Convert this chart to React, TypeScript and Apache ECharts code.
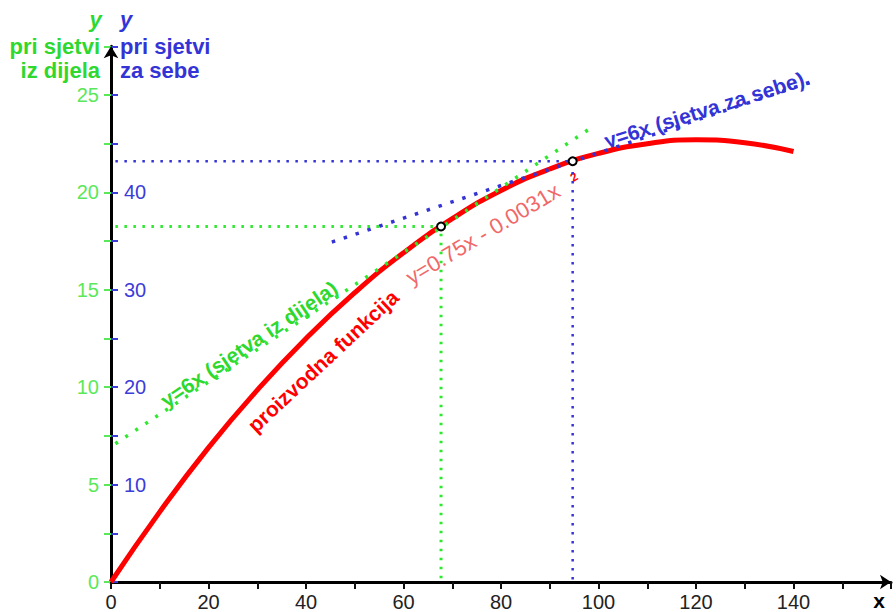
import React, { useEffect, useRef } from 'react';
import * as echarts from 'echarts';

// Production curve (values on the blue "pri sjetvi za sebe" scale)
const curveX = [0, 10, 20, 30, 40, 50, 60, 70, 80, 90, 100, 110, 120, 130, 140];
const curveY = [0, 7.2, 13.8, 19.7, 25.0, 29.7, 33.8, 37.3, 40.2, 42.4, 44.0, 45.0, 45.4, 45.1, 44.2];

// Green tangent (green scale)
const greenTangentX = [0.9, 99];
const greenTangentY = [7.1, 23.4];

// Blue tangent (blue scale)
const blueTangentX = [45.3, 143.3];
const blueTangentY = [34.9, 51.3];

// Tangent points
const greenPointX = 67.7;
const greenPointY = 18.25; // green scale
const bluePointX = 94.7;
const bluePointY = 43.2; // blue scale

// Tick labels
const xTickLabels = [0, 20, 40, 60, 80, 100, 120, 140];
const greenTickLabels = [0, 5, 10, 15, 20, 25];
const blueTickLabels = [10, 20, 30, 40];

const FONT = 'Liberation Sans, Arial, Helvetica, sans-serif';
const GREEN = '#2fd82f';
const GREEN_LINE = '#2ee82e';
const GREEN_TICK = '#5ae85a';
const BLUE = '#3434d6';
const BLUE_TICK = '#3c3cd8';
const RED = '#ff0000';

export default function App() {
  const ref = useRef<HTMLDivElement>(null);

  useEffect(() => {
    if (!ref.current) return;
    const chart = echarts.init(ref.current, undefined, { renderer: 'svg' });

    const curveData = curveX.map((x, i) => [x, curveY[i]]);
    const greenTangent = greenTangentX.map((x, i) => [x, greenTangentY[i]]);
    const blueTangent = blueTangentX.map((x, i) => [x, blueTangentY[i]]);
    const greenGuide = [
      [0.9, greenPointY],
      [greenPointX, greenPointY],
      [greenPointX, 0],
    ];
    const blueGuide = [
      [0.9, bluePointY],
      [bluePointX, bluePointY],
      [bluePointX, 0],
    ];

    const option: any = {
      animation: false,
      backgroundColor: '#ffffff',
      grid: {
        left: 111,
        right: 5,
        top: 46.3,
        bottom: 30,
        containLabel: false,
        outerBoundsMode: 'none',
      },
      xAxis: {
        type: 'value',
        min: 0,
        max: 160,
        interval: 10,
        axisLine: {
          show: true,
          onZero: false,
          symbol: ['none', 'arrow'],
          symbolSize: [11, 11],
          lineStyle: { color: '#000', width: 3 },
        },
        axisTick: { show: true, length: 7, lineStyle: { color: '#111', width: 2 } },
        axisLabel: {
          formatter: (v: number) => (xTickLabels.includes(v) ? String(v) : ''),
          color: '#222',
          fontSize: 20,
          fontFamily: FONT,
          margin: 10,
        },
        splitLine: { show: false },
      },
      yAxis: [
        {
          type: 'value',
          position: 'left',
          min: 0,
          max: 27.5,
          interval: 2.5,
          axisLine: {
            show: true,
            onZero: false,
            symbol: ['none', 'arrow'],
            symbolSize: [11, 12],
            lineStyle: { color: '#000', width: 3 },
          },
          axisTick: { show: true, length: 7, lineStyle: { color: GREEN_TICK, width: 2 } },
          axisLabel: {
            formatter: (v: number) => (greenTickLabels.includes(v) ? String(v) : ''),
            color: GREEN_TICK,
            fontSize: 20,
            fontFamily: FONT,
            margin: 12,
          },
          splitLine: { show: false },
        },
        {
          type: 'value',
          position: 'left',
          min: 0,
          max: 55,
          interval: 5,
          axisLine: { show: false, onZero: false },
          axisTick: { show: true, inside: true, length: 7, lineStyle: { color: BLUE_TICK, width: 2 } },
          axisLabel: {
            inside: true,
            formatter: (v: number) => (blueTickLabels.includes(v) ? String(v) : ''),
            color: BLUE_TICK,
            fontSize: 20,
            fontFamily: FONT,
            margin: 13,
          },
          splitLine: { show: false },
        },
      ],
      series: [
        {
          name: 'proizvodna funkcija',
          type: 'line',
          yAxisIndex: 1,
          data: curveData,
          smooth: true,
          showSymbol: false,
          lineStyle: { color: RED, width: 5 },
          z: 2,
        },
        {
          name: 'green guide',
          type: 'line',
          yAxisIndex: 0,
          data: greenGuide,
          showSymbol: false,
          lineStyle: { color: GREEN_LINE, width: 3, type: [2.5, 6.5] },
          z: 3,
        },
        {
          name: 'blue guide',
          type: 'line',
          yAxisIndex: 1,
          data: blueGuide,
          showSymbol: false,
          lineStyle: { color: BLUE, width: 2.5, type: [2.5, 6.5] },
          z: 3,
        },
        {
          name: 'green tangent',
          type: 'line',
          yAxisIndex: 0,
          data: greenTangent,
          showSymbol: false,
          lineStyle: { color: GREEN_LINE, width: 3.5, type: [3, 9] },
          z: 4,
        },
        {
          name: 'blue tangent',
          type: 'line',
          yAxisIndex: 1,
          data: blueTangent,
          showSymbol: false,
          lineStyle: { color: BLUE, width: 3.5, type: [3.5, 9] },
          z: 4,
        },
        {
          name: 'green point',
          type: 'scatter',
          yAxisIndex: 0,
          data: [[greenPointX, greenPointY]],
          symbol: 'circle',
          symbolSize: 8,
          itemStyle: { color: '#ffffff', borderColor: '#000', borderWidth: 2, opacity: 1 },
          z: 6,
        },
        {
          name: 'blue point',
          type: 'scatter',
          yAxisIndex: 1,
          data: [[bluePointX, bluePointY]],
          symbol: 'circle',
          symbolSize: 8,
          itemStyle: { color: '#ffffff', borderColor: '#000', borderWidth: 2, opacity: 1 },
          z: 6,
        },
      ],
      graphic: [
        { type: 'text', x: 95.5, y: 19, style: { text: 'y', fill: GREEN, font: `italic bold 22px ${FONT}`, align: 'center', verticalAlign: 'middle' } },
        { type: 'text', x: 126, y: 19, style: { text: 'y', fill: BLUE, font: `italic bold 22px ${FONT}`, align: 'center', verticalAlign: 'middle' } },
        { type: 'text', x: 100, y: 46, style: { text: 'pri sjetvi', fill: GREEN, font: `bold 22px ${FONT}`, align: 'right', verticalAlign: 'middle' } },
        { type: 'text', x: 100, y: 70, style: { text: 'iz dijela', fill: GREEN, font: `bold 22px ${FONT}`, align: 'right', verticalAlign: 'middle' } },
        { type: 'text', x: 120, y: 46, style: { text: 'pri sjetvi', fill: BLUE, font: `bold 22px ${FONT}`, align: 'left', verticalAlign: 'middle' } },
        { type: 'text', x: 120, y: 70, style: { text: 'za sebe', fill: BLUE, font: `bold 22px ${FONT}`, align: 'left', verticalAlign: 'middle' } },
        { type: 'text', x: 879, y: 600, style: { text: 'x', fill: '#000', font: `bold 21px ${FONT}`, align: 'center', verticalAlign: 'middle' } },
        {
          type: 'text', x: 249, y: 344, rotation: (34 * Math.PI) / 180, z: 1,
          style: { text: 'y=6x (sjetva iz dijela)', fill: GREEN, font: `bold 21px ${FONT}`, align: 'center', verticalAlign: 'middle' },
        },
        {
          type: 'text', x: 323, y: 361, rotation: (43 * Math.PI) / 180,
          style: { text: 'proizvodna funkcija', fill: RED, font: `bold 21px ${FONT}`, align: 'center', verticalAlign: 'middle' },
        },
        {
          type: 'text', x: 483, y: 234, rotation: (31 * Math.PI) / 180,
          style: { text: 'y=0.75x - 0.0031x', fill: '#f06868', font: `22px ${FONT}`, align: 'center', verticalAlign: 'middle' },
        },
        {
          type: 'text', x: 574, y: 177, rotation: (31 * Math.PI) / 180,
          style: { text: '2', fill: RED, font: `bold 12px ${FONT}`, align: 'center', verticalAlign: 'middle' },
        },
        {
          type: 'text', x: 707, y: 109, rotation: (17.5 * Math.PI) / 180, z: 1,
          style: { text: 'y=6x (sjetva za sebe).', fill: BLUE, font: `bold 21px ${FONT}`, align: 'center', verticalAlign: 'middle' },
        },
      ],
    };

    chart.setOption(option);
    return () => chart.dispose();
  }, []);

  return <div ref={ref} style={{ position: 'fixed', left: 0, top: 0, width: 896, height: 612 }} />;
}
